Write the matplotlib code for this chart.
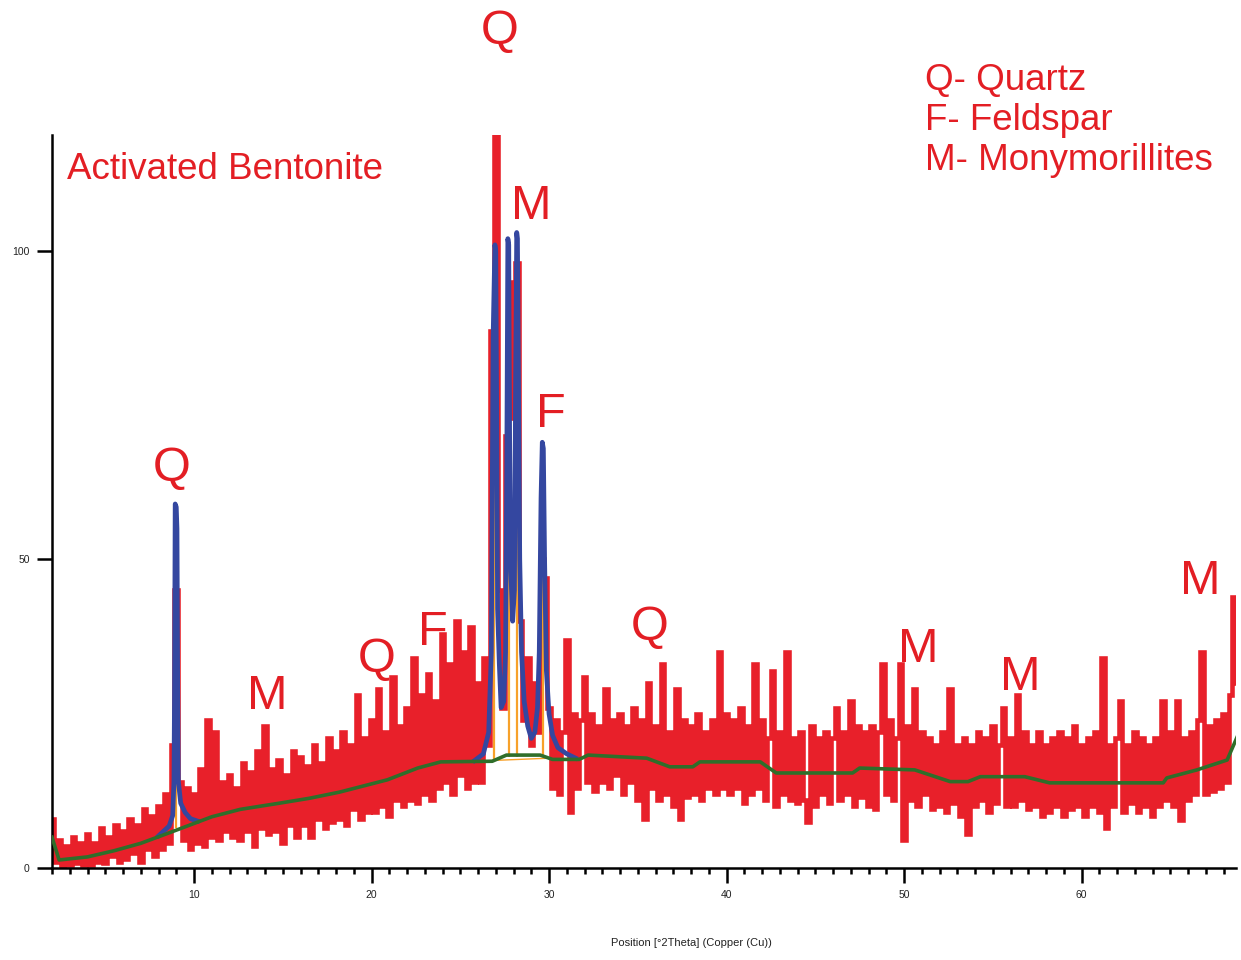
# Diffractogramme DRX - bentonite activée

import numpy as np
import matplotlib.pyplot as plt
from matplotlib.ticker import MultipleLocator

# Intensité observée, pas de 0.2 °2Theta à partir de 2.0
theta_start = 2.0
theta_step = 0.2
observed = [
    8.0, 1.0, 4.5, 0.3, 3.5, 0.5, 5.0, 0.8, 4.0, 0.5,             # 2
    5.5, 0.5, 4.0, 1.0, 6.5, 0.8, 5.0, 2.0, 7.0, 1.0,             # 4
    6.0, 1.5, 8.0, 2.5, 7.0, 1.0, 9.5, 3.0, 8.5, 2.0,             # 6
    10.0, 3.0, 12.0, 4.0, 20.0, 45.0, 14.0, 4.5, 13.0, 3.0,       # 8
    12.0, 4.0, 16.0, 3.5, 24.0, 5.0, 22.0, 4.5, 14.0, 6.0,        # 10
    15.0, 5.0, 13.0, 4.5, 17.0, 6.0, 15.5, 3.5, 19.0, 6.5,        # 12
    23.0, 5.5, 16.0, 6.0, 17.5, 4.0, 15.0, 7.0, 19.0, 5.0,        # 14
    18.0, 7.0, 16.5, 5.0, 20.0, 8.0, 17.0, 6.5, 21.0, 7.5,        # 16
    19.0, 8.0, 22.0, 7.0, 20.0, 9.5, 28.0, 8.0, 21.0, 9.0,        # 18
    24.0, 9.0, 29.0, 10.0, 22.0, 8.5, 31.0, 11.0, 23.0, 10.0,     # 20
    26.0, 11.0, 34.0, 10.5, 28.0, 12.0, 31.5, 11.0, 27.0, 13.0,   # 22
    38.0, 14.0, 33.0, 12.0, 40.0, 15.0, 35.0, 13.0, 39.0, 14.0,   # 24
    30.0, 14.0, 34.0, 20.0, 87.0, 119.0, 45.0, 26.0, 70.0, 95.0,  # 26
    73.0, 98.0, 40.0, 24.0, 34.0, 20.0, 30.0, 22.0, 50.0, 47.0,   # 28
    26.0, 13.0, 24.0, 12.0, 22.0, 37.0, 9.0, 25.0, 13.0, 24.0,    # 30
    31.0, 14.0, 25.0, 12.5, 23.0, 14.0, 29.0, 13.0, 24.0, 15.0,   # 32
    25.0, 12.0, 23.0, 14.0, 26.0, 11.0, 24.0, 8.0, 30.0, 13.0,    # 34
    23.0, 11.0, 33.0, 12.0, 22.0, 10.0, 29.0, 8.0, 24.0, 11.5,    # 36
    23.0, 12.0, 25.0, 11.0, 22.0, 13.0, 24.0, 12.0, 35.0, 13.0,   # 38
    25.0, 12.0, 24.0, 13.0, 26.0, 10.5, 23.0, 12.0, 33.0, 13.0,   # 40
    24.0, 11.0, 21.0, 32.0, 10.0, 22.0, 12.0, 35.0, 11.0, 21.0,   # 42
    10.5, 22.0, 11.0, 7.5, 23.0, 10.0, 21.0, 12.0, 22.0, 10.5,    # 44
    21.0, 26.0, 11.0, 22.0, 12.0, 27.0, 10.0, 23.0, 11.5, 22.0,   # 46
    10.0, 23.0, 9.5, 22.0, 33.0, 12.0, 24.0, 11.0, 21.0, 33.0,    # 48
    4.5, 23.0, 11.0, 29.0, 10.0, 22.0, 12.0, 21.0, 9.5, 20.0,     # 50
    10.0, 22.0, 9.0, 29.0, 10.5, 20.0, 8.5, 21.0, 5.5, 20.0,      # 52
    10.0, 22.0, 11.0, 21.0, 9.0, 23.0, 10.5, 20.0, 26.0, 10.0,    # 54
    21.0, 10.0, 28.0, 11.0, 22.0, 9.5, 20.0, 10.0, 22.0, 8.5,     # 56
    20.0, 9.0, 21.0, 10.0, 22.0, 8.5, 21.0, 9.5, 23.0, 10.0,      # 58
    20.0, 8.5, 21.0, 10.0, 22.0, 9.0, 34.0, 6.5, 20.0, 10.0,      # 60
    21.0, 27.0, 9.0, 20.0, 10.5, 22.0, 9.0, 21.0, 10.0, 20.0,     # 62
    8.5, 21.0, 10.0, 27.0, 11.0, 22.0, 10.0, 27.0, 7.8, 21.0,     # 64
    11.0, 22.0, 12.0, 24.0, 35.0, 12.0, 23.0, 12.5, 24.0, 13.0,   # 66
    25.0, 14.0, 28.0, 44.0, 30.0, 26.0,                           # 68
]

# Fond (courbe verte)
bg_theta = [2.0, 2.4, 4.0, 5.5, 7.0, 8.6, 9.8, 11.0, 12.6, 14.8, 16.5, 18.2,
            20.9, 22.6, 23.9, 26.8, 27.6, 29.5, 30.2, 31.7, 32.2, 35.5, 36.8,
            38.1, 38.5, 41.9, 42.8, 47.1, 47.5, 50.6, 52.6, 53.6, 54.3, 56.8,
            58.2, 64.6, 64.8, 66.5, 68.2, 69.0]
bg_int = [5.0, 1.3, 1.8, 2.8, 4.0, 5.7, 7.0, 8.3, 9.5, 10.5, 11.3, 12.3,
          14.3, 16.2, 17.2, 17.3, 18.3, 18.3, 17.6, 17.6, 18.3, 17.8, 16.4,
          16.4, 17.2, 17.2, 15.4, 15.4, 16.2, 15.9, 14.0, 14.0, 14.8, 14.8,
          13.8, 13.8, 14.6, 15.9, 17.5, 22.8]

# Profil calculé (bleu) autour des pics
calc_q_theta = [8.0, 8.6, 8.8, 8.87, 8.9, 8.94, 9.0, 9.04, 9.08, 9.12, 9.25,
                9.5, 9.8, 10.2]
calc_q_int = [5.2, 6.8, 8.5, 14.0, 27.0, 59.0, 58.5, 55.0, 30.0, 14.0, 10.5,
              9.0, 8.0, 7.6]
calc_main_theta = [25.8, 26.3, 26.6, 26.75, 26.85, 26.95, 27.0, 27.05, 27.1,
                   27.2, 27.3, 27.45, 27.55, 27.62, 27.68, 27.73, 27.78, 27.85,
                   27.95, 28.05, 28.12, 28.18, 28.22, 28.28, 28.35, 28.45, 28.6,
                   28.8, 29.0, 29.2, 29.35, 29.45, 29.55, 29.62, 29.68, 29.75,
                   29.85, 30.0, 30.2, 30.5, 31.0, 31.5]
calc_main_int = [17.4, 18.5, 22.0, 35.0, 86.0, 101.0, 100.0, 75.0, 42.0,
                 33.0, 26.0, 27.0, 35.0, 65.0, 102.0, 101.0, 70.0, 48.0,
                 40.0, 45.0, 80.0, 103.0, 102.0, 79.0, 50.0, 35.0, 27.0,
                 23.0, 21.0, 22.0, 26.0, 35.0, 60.0, 69.0, 68.0, 50.0,
                 32.0, 25.0, 21.5, 19.5, 18.5, 17.8]

# Positions des raies (bâtons orange)
stick_theta = [8.97, 26.9, 27.72, 28.2, 29.68]
stick_bottom = [6.5, 17.5, 18.0, 18.0, 18.2]
stick_top = [43.0, 82.0, 79.0, 82.0, 53.0]
orange_base_theta = [26.6, 30.0]
orange_base_int = [17.4, 17.8]

# Étiquettes de phases
phase_labels = ['Q', 'M', 'F', 'Q', 'M', 'Q', 'F', 'Q', 'M', 'M', 'M']
label_theta = [27.24, 28.99, 30.11, 8.76, 14.11, 20.31, 23.46, 35.69, 50.79, 56.54, 66.68]
label_int = [133.5, 105.2, 71.4, 62.7, 25.7, 31.8, 36.1, 37.0, 33.4, 28.8, 44.4]

legend_lines = ['Q- Quartz', 'F- Feldspar', 'M- Monymorillites']

RED = '#E8202A'
TXT = '#E31E24'

plt.rcParams['font.family'] = ['Liberation Sans', 'DejaVu Sans']

fig = plt.figure(figsize=(12.41, 9.6), dpi=100)
ax = fig.add_axes([52 / 1241, 92 / 960, 1184 / 1241, 733 / 960])

theta = theta_start + theta_step * np.arange(len(observed))
ax.step(theta, observed, where='mid', color=RED, lw=3.3, zorder=2,
        solid_joinstyle='miter', solid_capstyle='butt')
ax.vlines(stick_theta, stick_bottom, stick_top, color='#F7A12A', lw=1.6, zorder=3)
ax.plot(orange_base_theta, orange_base_int, color='#F7A12A', lw=1.0, zorder=3)
ax.plot(calc_q_theta, calc_q_int, color='#3447A0', lw=3.4, zorder=4)
ax.plot(calc_main_theta, calc_main_int, color='#3447A0', lw=3.4, zorder=4)
ax.plot(bg_theta, bg_int, color='#2F6E2A', lw=2.6, zorder=5)

ax.set_xlim(2.0, 68.7)
ax.set_ylim(0, 118.8)

for s in ['top', 'right']:
    ax.spines[s].set_visible(False)
for s in ['left', 'bottom']:
    ax.spines[s].set_linewidth(1.8)

ax.xaxis.set_major_locator(MultipleLocator(10))
ax.xaxis.set_minor_locator(MultipleLocator(1))
ax.set_yticks([0, 50, 100])
ax.tick_params(axis='both', which='major', length=11, width=1.8, labelsize=7.5,
               labelcolor='#222222', pad=5)
ax.tick_params(axis='x', which='minor', length=4, width=1.8)

fig.text(691 / 1241, 1 - 943 / 960, 'Position [°2Theta] (Copper (Cu))',
         ha='center', va='center', fontsize=8, color='#222222')

# Lettres des phases
for lab, t, i in zip(phase_labels, label_theta, label_int):
    ax.text(t, i, lab, ha='center', va='baseline', fontsize=35, color=TXT,
            clip_on=False, zorder=6)

fig.text(67 / 1241, 1 - 179 / 960, 'Activated Bentonite', ha='left',
         va='baseline', fontsize=26.5, color=TXT)
for k, line in enumerate(legend_lines):
    fig.text(925 / 1241, 1 - (90 + 40 * k) / 960, line, ha='left',
             va='baseline', fontsize=26.5, color=TXT)

plt.savefig('out.png', dpi=100)
